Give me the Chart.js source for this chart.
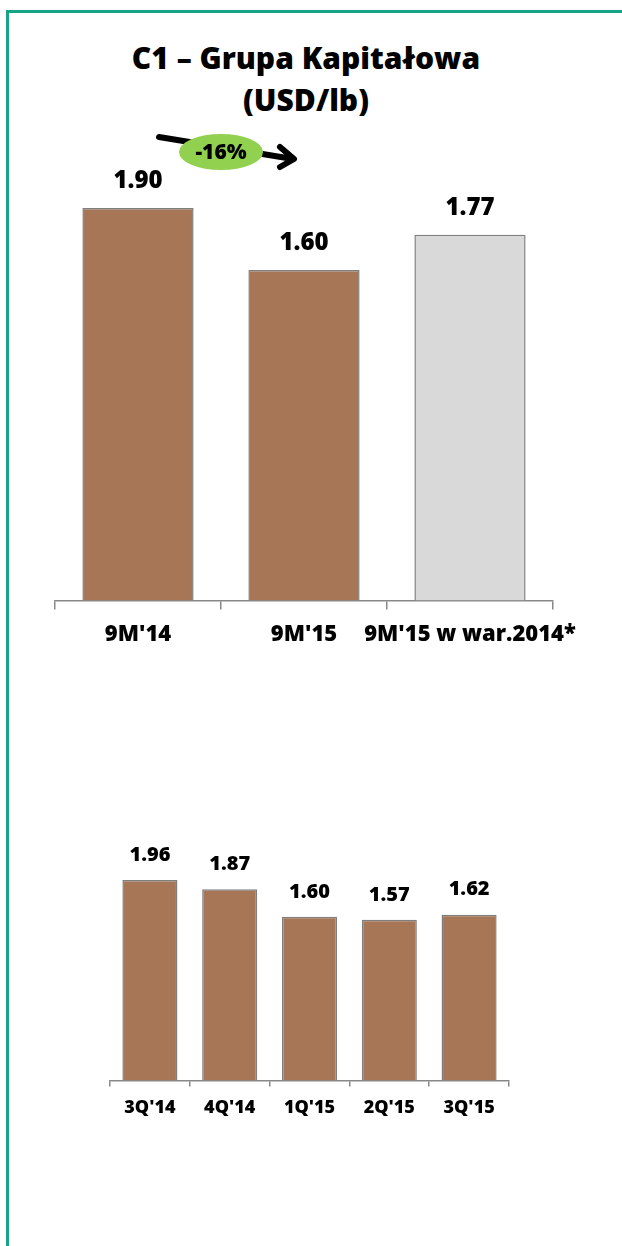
<!DOCTYPE html>
<html>
<head>
<meta charset="utf-8">
<script src="https://cdn.jsdelivr.net/npm/chart.js@4/dist/chart.umd.min.js"></script>
<style>
  html, body { margin: 0; padding: 0; background: #ffffff; }
  body { width: 622px; height: 1246px; position: relative; overflow: hidden;
         font-family: "Open Sans", sans-serif; }
  .frame { position: absolute; left: 6px; top: 10px; right: -10px; bottom: -10px;
           border-top: 3px solid #16a386; border-left: 3px solid #16a386; }
  .title { position: absolute; left: 0; width: 612px; top: 37px; text-align: center;
           font-weight: 800; font-size: 30px; line-height: 42px; color: #000; }
  .wrap { position: absolute; left: 0; width: 622px; }
  #top { top: 0; height: 660px; }
  #bottom { top: 760px; height: 370px; }
</style>
</head>
<body>
<div class="frame"></div>
<div class="title">C1 – Grupa Kapitałowa<br>(USD/lb)</div>
<div class="wrap" id="top"><canvas id="c1"></canvas></div>
<div class="wrap" id="bottom"><canvas id="c2"></canvas></div>
<script>
// C1 cash cost, USD/lb
const periodLabels = ["9M'14", "9M'15", "9M'15 w war.2014*"];
const periodValues = [1.90, 1.60, 1.77];
const periodColors = ["#a67656", "#a67656", "#d9d9d9"];

const quarterLabels = ["3Q'14", "4Q'14", "1Q'15", "2Q'15", "3Q'15"];
const quarterValues = [1.96, 1.87, 1.60, 1.57, 1.62];

const changeLabel = "-16%";

const FONT = '"Open Sans", sans-serif';

// value labels above each bar
const valueLabels = {
  id: 'valueLabels',
  afterDatasetsDraw(chart, args, opts) {
    const ctx = chart.ctx;
    const ds = chart.data.datasets[0];
    chart.getDatasetMeta(0).data.forEach((bar, i) => {
      ctx.save();
      ctx.font = `800 ${opts.size}px ${FONT}`;
      ctx.fillStyle = '#000';
      ctx.textAlign = 'center';
      ctx.textBaseline = 'middle';
      ctx.fillText(ds.data[i].toFixed(2), bar.x, bar.y - opts.offset);
      ctx.restore();
    });
  }
};

// change badge with arrow between the first two bars
const changeBadge = {
  id: 'changeBadge',
  afterDraw(chart, args, opts) {
    if (!opts.text) return;
    const ctx = chart.ctx;
    const bars = chart.getDatasetMeta(0).data;
    const cx = (bars[0].x + bars[1].x) / 2;
    const cy = 152;
    ctx.save();
    ctx.strokeStyle = '#000';
    ctx.lineWidth = 6;
    ctx.lineCap = 'round';
    ctx.lineJoin = 'round';
    ctx.beginPath();
    ctx.moveTo(cx - 62, cy - 15);
    ctx.lineTo(cx + 72, cy + 7);
    ctx.stroke();
    ctx.beginPath();
    ctx.moveTo(cx + 59, cy - 5);
    ctx.lineTo(cx + 73, cy + 7);
    ctx.lineTo(cx + 59, cy + 15);
    ctx.stroke();
    ctx.fillStyle = '#92d050';
    ctx.beginPath();
    ctx.ellipse(cx, cy, 42, 18, 0, 0, Math.PI * 2);
    ctx.fill();
    ctx.fillStyle = '#000';
    ctx.font = `800 21px ${FONT}`;
    ctx.textAlign = 'center';
    ctx.textBaseline = 'middle';
    ctx.fillText(opts.text, cx, cy + 1);
    ctx.restore();
  }
};

function barChart(id, labels, values, colors, cfg) {
  return new Chart(document.getElementById(id), {
    type: 'bar',
    data: {
      labels: labels,
      datasets: [{
        data: values,
        backgroundColor: colors,
        borderColor: '#7f7f7f',
        borderWidth: 1.5,
        borderSkipped: 'bottom',
        barPercentage: cfg.barPct,
        categoryPercentage: 1
      }]
    },
    options: {
      responsive: true,
      maintainAspectRatio: false,
      animation: false,
      layout: { padding: cfg.padding },
      plugins: {
        legend: { display: false },
        tooltip: { enabled: false },
        valueLabels: { size: cfg.valueSize, offset: cfg.valueOffset },
        changeBadge: { text: cfg.badge }
      },
      scales: {
        x: {
          offset: true,
          border: { display: true, color: '#888', width: 1.5 },
          grid: { offset: true, drawOnChartArea: false, tickLength: cfg.tickLen,
                  color: '#888', lineWidth: 1.5 },
          ticks: { color: '#000', padding: cfg.tickPad, maxRotation: 0, autoSkip: false,
                   font: { family: FONT, weight: 800, size: cfg.tickSize } }
        },
        y: { display: false, min: 0, max: cfg.max }
      }
    },
    plugins: [valueLabels, changeBadge]
  });
}

barChart('c1', periodLabels, periodValues, periodColors, {
  barPct: 0.67, padding: { left: 55, right: 69, top: 146, bottom: 0 },
  valueSize: 24, valueOffset: 27, tickLen: 9, tickPad: 12, tickSize: 22,
  max: 2.2, badge: changeLabel
});

barChart('c2', quarterLabels, quarterValues, quarterValues.map(() => '#a67656'), {
  barPct: 0.69, padding: { left: 110, right: 113, top: 75, bottom: 0 },
  valueSize: 20, valueOffset: 25, tickLen: 6, tickPad: 11, tickSize: 18,
  max: 2.4, badge: null
});
</script>
</body>
</html>
